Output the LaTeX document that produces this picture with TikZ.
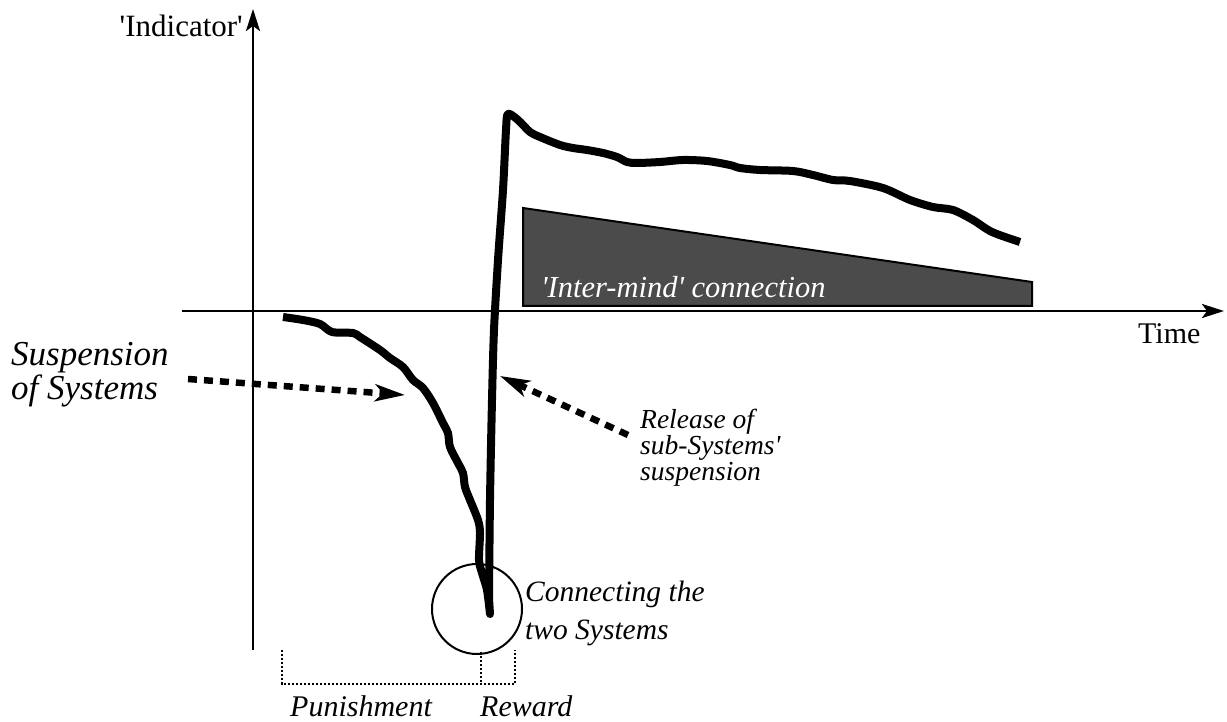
\documentclass[tikz,border=0pt]{standalone}
\usepackage{fontspec}
\setmainfont{Liberation Serif}
\usetikzlibrary{arrows.meta}
\definecolor{shadegray}{HTML}{4B4B4B}
\begin{document}
\begin{tikzpicture}[x=1pt,y=-1pt,
  axisline/.style={line width=2.8pt,-{Stealth[length=22pt,width=14pt,inset=5pt]}},
  graphline/.style={line width=8pt,line join=round},
  pointer/.style={line width=6.5pt,dash pattern=on 9pt off 7pt,-{Stealth[length=30pt,width=17pt,inset=8pt]}},
  bracketline/.style={line width=2.5pt,dash pattern=on 2.2pt off 1.8pt},
  lbl/.style={inner sep=0pt,anchor=base west,align=left},
]
\useasboundingbox (0,0) rectangle (1227,722);
% axes
\coordinate (ybot) at (253,650);
\coordinate (ytop) at (253,9);
\coordinate (xleft) at (182,311);
\coordinate (xright) at (1224,311);
\draw[axisline] (ybot) -- (ytop);
\draw[axisline] (xleft) -- (xright);
\node[inner sep=0pt,anchor=base east,font=\fontsize{31}{31}\selectfont] (ind) at (243,37) {\textquotesingle Indicator\textquotesingle};
\node[lbl,font=\fontsize{30}{30}\selectfont] (time) at (1138,343) {Time};
% inter-mind wedge
\draw[line width=2pt,fill=shadegray] (523,208) -- (523,306) -- (1032,306) -- (1032,282) -- cycle;
\node[lbl,text=white,font=\fontsize{30.5}{30}\selectfont\itshape] (inter) at (541,298) {\textquotesingle Inter-mind\textquotesingle{} connection};
% graph curve
\draw[graphline] plot[smooth,tension=0.5] coordinates {(283,317) (303,320) (320,324) (332,332) (353,333) (360,337) (380,350) (390,358) (403,367) (413,380) (423,388) (433,403) (443,423) (448,433) (450,447) (458,463) (463,473) (465,487) (470,500) (478,520) (480,533) (479,560) (482,573) (487,590) (490,614)}
  -- plot[smooth,tension=0.5] coordinates {(489,598) (490,500) (492,400) (494,330) (498,260) (503,190) (506,130) (508,114) (518,120) (530,132) (540,137) (560,145) (573,148) (587,150) (603,153) (617,157) (627,162) (637,163) (660,162) (683,160) (707,161) (730,165) (740,168) (760,170) (793,171) (813,175) (833,180) (850,181) (883,188) (910,200) (933,207) (953,210) (973,220) (992,232) (1020,242)};
% circle
\node[circle,draw,line width=2pt,minimum size=90pt,inner sep=0pt] (conn) at (477,609) {};
\node[lbl,font=\fontsize{29.5}{38}\selectfont\itshape] (conntext) at (525,639) {Connecting the\\two Systems};
% suspension
\node[lbl,font=\fontsize{35}{29}\selectfont\itshape] (susp) at (11,399) {Suspension\\of Systems};
\coordinate (suspA) at (188,379);
\coordinate (suspB) at (405,395);
\draw[pointer] (suspA) -- (suspB);
% release
\node[lbl,font=\fontsize{27.5}{26}\selectfont\itshape] (rel) at (640,480) {Release of\\sub-Systems\textquotesingle\\suspension};
\coordinate (relA) at (628,435);
\coordinate (relB) at (500,376);
\draw[pointer] (relA) -- (relB);
% brackets
\coordinate (p1) at (282,650);
\coordinate (p2) at (282,684);
\coordinate (p3) at (515,684);
\coordinate (p4) at (515,650);
\coordinate (m1) at (481,652);
\coordinate (m2) at (481,684);
\draw[bracketline] (p1) -- (p2) -- (p3) -- (p4);
\draw[bracketline] (m1) -- (m2);
\node[lbl,font=\fontsize{30}{30}\selectfont\itshape] (pun) at (290,716) {Punishment};
\node[lbl,font=\fontsize{30}{30}\selectfont\itshape] (rew) at (480,716) {Reward};
\end{tikzpicture}
\end{document}
